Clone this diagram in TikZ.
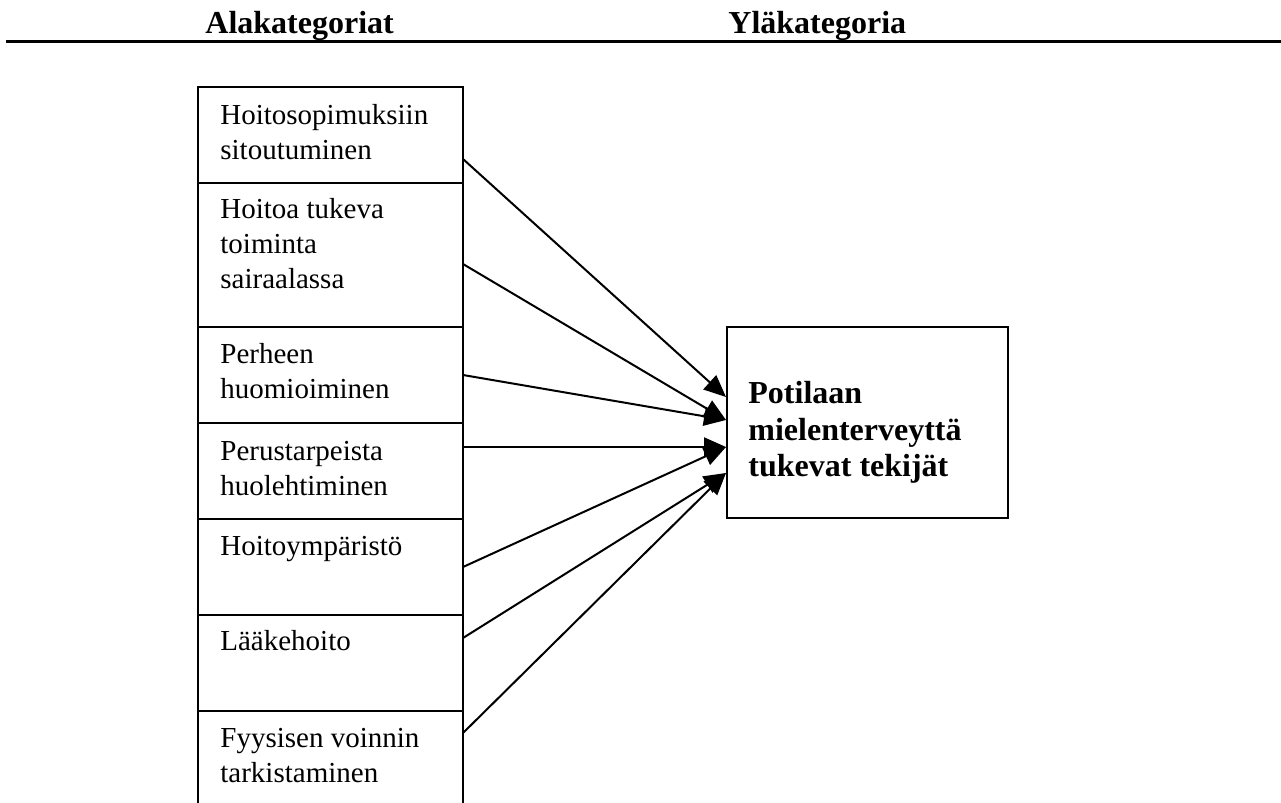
\documentclass[tikz,border=0pt]{standalone}
\usepackage{fontspec}
\setmainfont{Liberation Serif}
\usetikzlibrary{arrows.meta}
% multi-line cell text whose baseline is the first line
\newcommand\cellrows[1]{\begin{tabular}[t]{@{}l@{}}#1\end{tabular}}
\begin{document}
\begin{tikzpicture}[x=0.5pt,y=-0.5pt,
  frame/.style={draw,line width=1pt,inner sep=0pt,outer sep=0pt,anchor=north west},
  celltext/.style={anchor=base west,inner sep=0pt,font=\fontsize{14.5}{17.5}\selectfont},
  boldtext/.style={anchor=base west,inner sep=0pt,font=\fontsize{16}{18}\selectfont\bfseries},
  link/.style={line width=1pt,-{Triangle[length=11pt,width=9.5pt]}}]
\useasboundingbox (0,0) rectangle (1281,803);

% column headings and rule
\node[boldtext] (hleft) at (205,33) {Alakategoriat};
\node[boldtext] (hright) at (728,33) {Yläkategoria};
\draw[line width=1.5pt] (6,41) -- (1281,41);

% stack of subcategory cells
\node[frame,minimum width=132.5pt,minimum height=48pt] (c1) at (198,87) {};
\node[frame,minimum width=132.5pt,minimum height=72pt] (c2) at (198,183) {};
\node[frame,minimum width=132.5pt,minimum height=48pt] (c3) at (198,327) {};
\node[frame,minimum width=132.5pt,minimum height=48pt] (c4) at (198,423) {};
\node[frame,minimum width=132.5pt,minimum height=48pt] (c5) at (198,519) {};
\node[frame,minimum width=132.5pt,minimum height=48pt] (c6) at (198,615) {};
\draw[line width=1pt] (c6.south west) -- (198,803);
\draw[line width=1pt] (c6.south east) -- (463,803);

\node[celltext] (l1) at (220,124) {\cellrows{Hoitosopimuksiin\\sitoutuminen}};
\node[celltext] (l2) at (220,218) {\cellrows{Hoitoa tukeva\\toiminta\\sairaalassa}};
\node[celltext] (l3) at (220,363) {\cellrows{Perheen\\huomioiminen}};
\node[celltext] (l4) at (220,460) {\cellrows{Perustarpeista\\huolehtiminen}};
\node[celltext] (l5) at (220,555) {Hoitoympäristö};
\node[celltext] (l6) at (220,650) {Lääkehoito};
\node[celltext] (l7) at (220,747) {\cellrows{Fyysisen voinnin\\tarkistaminen}};

% main category box
\node[frame,minimum width=140.5pt,minimum height=95.5pt] (goal) at (727,327) {};
\node[boldtext] (gtext) at (748,403) {\cellrows{Potilaan\\[0.5pt]mielenterveyttä\\tukevat tekijät}};

% connector start points on the cell edges
\coordinate (s1) at (463,159);
\coordinate (s2) at (463,264);
\coordinate (s3) at (463,375);
\coordinate (s4) at (463,447);
\coordinate (s5) at (463,567);
\coordinate (s6) at (463,638);
\coordinate (s7) at (463,733);
% arrow tips at the main box
\coordinate (t1) at (726,397);
\coordinate (t2) at (726,420);
\coordinate (t3) at (726,447);
\coordinate (t4) at (726,473);

\draw[link] (s1) -- (t1);
\draw[link] (s2) -- (t2);
\draw[link] (s3) -- (t2);
\draw[link] (s4) -- (t3);
\draw[link] (s5) -- (t3);
\draw[link] (s6) -- (t4);
\draw[link] (s7) -- (t4);
\end{tikzpicture}
\end{document}
